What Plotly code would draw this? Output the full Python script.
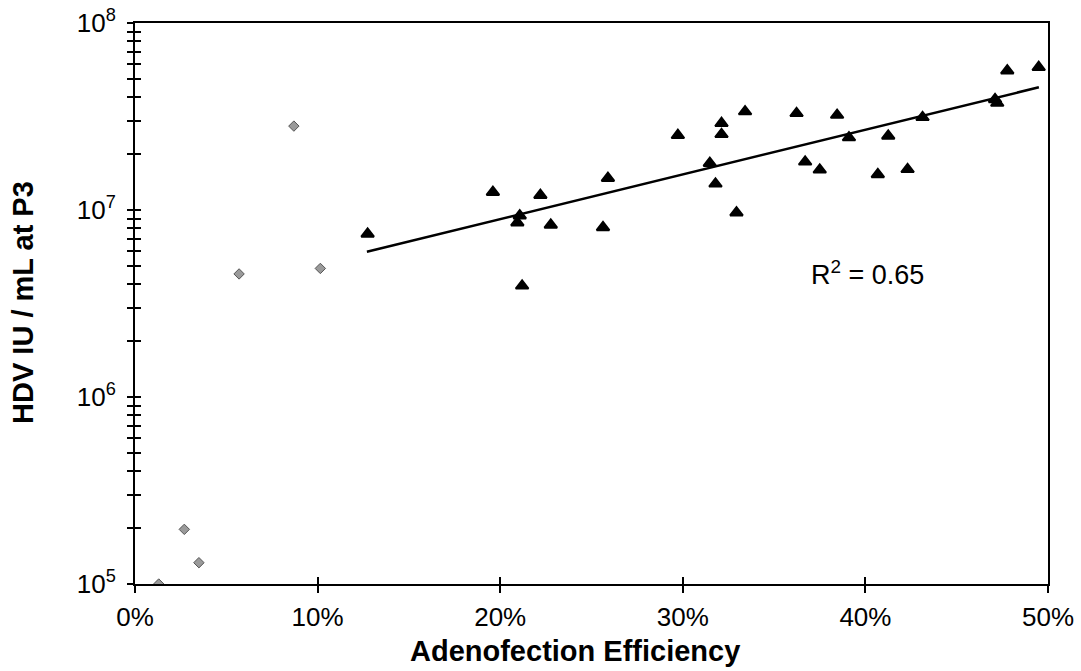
import plotly.graph_objects as go

# Low-efficiency samples (grey diamonds)
low_eff = [1.3, 2.7, 3.5, 5.7, 8.7, 10.15]
low_titer = [1.0e5, 1.96e5, 1.3e5, 4.55e6, 2.81e7, 4.87e6]

# Samples above 12% adenofection efficiency (black triangles)
high_eff = [12.74, 19.6, 20.94, 21.07, 21.2, 22.2, 22.77, 25.63, 25.9, 29.73,
            31.48, 31.79, 32.12, 32.12, 32.94, 33.41, 36.23, 36.7, 37.5, 38.45,
            39.1, 40.68, 41.25, 42.31, 43.13, 47.1, 47.22, 47.77, 49.49]
high_titer = [7.45e6, 1.245e7, 8.55e6, 9.33e6, 3.93e6, 1.2e7, 8.32e6, 8.07e6, 1.48e7, 2.51e7,
              1.78e7, 1.38e7, 2.91e7, 2.54e7, 9.68e6, 3.36e7, 3.29e7, 1.81e7, 1.64e7, 3.22e7,
              2.44e7, 1.55e7, 2.49e7, 1.65e7, 3.13e7, 3.9e7, 3.73e7, 5.56e7, 5.8e7]

# Exponential trend line endpoints
trend_eff = [12.7, 49.5]
trend_titer = [5.98e6, 4.53e7]
r_squared = "0.65"

# Axis ticks
x_ticks = [0, 10, 20, 30, 40, 50]
x_ticktext = [f"{v}%" for v in x_ticks]
y_ticks = [m * 10 ** e for e in range(5, 8) for m in range(1, 10)] + [1e8]
y_ticktext = [f"10<sup>{e}</sup>" if m == 1 else "" for e in range(5, 8) for m in range(1, 10)] + ["10<sup>8</sup>"]

FONT = "Liberation Sans, Arial, Helvetica, sans-serif"

fig = go.Figure()

fig.add_trace(go.Scatter(
    x=low_eff, y=low_titer, mode="markers",
    marker=dict(symbol="diamond", size=8, color="#9a9a9a",
                line=dict(color="#555555", width=1)),
    showlegend=False, hoverinfo="skip"))

fig.add_trace(go.Scatter(
    x=trend_eff, y=trend_titer, mode="lines",
    line=dict(color="black", width=2.5),
    showlegend=False, hoverinfo="skip"))

fig.add_trace(go.Scatter(
    x=high_eff, y=high_titer, mode="markers",
    marker=dict(symbol="triangle-up", size=11, color="black",
                line=dict(color="black", width=2)),
    showlegend=False, hoverinfo="skip"))

# Empty trace so the overlay axes (inner tick marks) are drawn
fig.add_trace(go.Scatter(x=[None], y=[None], xaxis="x2", yaxis="y2",
                         showlegend=False, hoverinfo="skip"))

tick_font = dict(family=FONT, size=26, color="black")

fig.update_layout(
    width=1081, height=671,
    margin=dict(l=135, r=33, t=23, b=87, autoexpand=False),
    paper_bgcolor="white", plot_bgcolor="white",
    xaxis=dict(range=[0, 50], tickmode="array", tickvals=x_ticks, ticktext=x_ticktext,
               showline=True, linecolor="black", linewidth=2, mirror=True,
               ticks="outside", ticklen=7, tickwidth=2, tickcolor="black",
               showgrid=False, zeroline=False, tickfont=tick_font,
               ticklabelstandoff=2, automargin=False),
    xaxis2=dict(range=[0, 50], overlaying="x", anchor="y", side="bottom",
                tickvals=x_ticks, ticks="inside", ticklen=7, tickwidth=2,
                tickcolor="black", showticklabels=False, showline=False,
                showgrid=False, zeroline=False, automargin=False),
    yaxis=dict(type="log", range=[5, 8], tickmode="array", tickvals=y_ticks,
               ticktext=y_ticktext,
               showline=True, linecolor="black", linewidth=2, mirror=True,
               ticks="outside", ticklen=6, tickwidth=2, tickcolor="black",
               showgrid=False, zeroline=False, tickfont=tick_font,
               ticklabelstandoff=6, automargin=False),
    yaxis2=dict(type="log", range=[5, 8], overlaying="y", anchor="x", side="left",
                tickvals=y_ticks, ticks="inside", ticklen=6, tickwidth=2,
                tickcolor="black", showticklabels=False, showline=False,
                showgrid=False, zeroline=False, automargin=False),
    annotations=[
        dict(text="<b>Adenofection Efficiency</b>", xref="paper", yref="paper",
             x=0.482, y=-(651 - 584) / 561, xanchor="center", yanchor="middle",
             showarrow=False, font=dict(family=FONT, size=29, color="black")),
        dict(text="<b>HDV IU / mL at P3</b>", xref="paper", yref="paper",
             x=-0.1227, y=0.5027, xanchor="center", yanchor="middle",
             textangle=-90, showarrow=False,
             font=dict(family=FONT, size=29, color="black")),
        dict(text=f"R<sup>2</sup> = {r_squared}", xref="paper", yref="paper",
             x=(867 - 135) / 913, y=(584 - 273) / 561, xanchor="center",
             yanchor="middle", showarrow=False,
             font=dict(family=FONT, size=27, color="black")),
    ],
)

fig.write_html("out.html")
